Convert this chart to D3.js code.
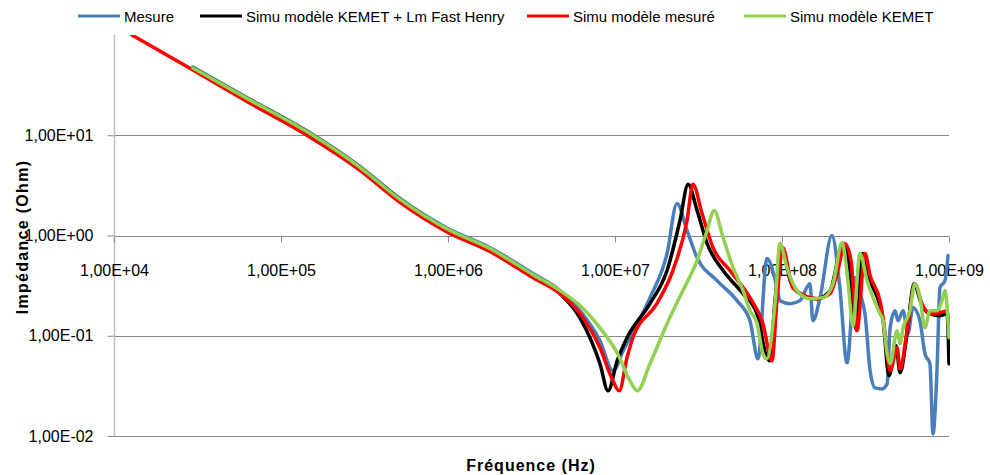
<!DOCTYPE html>
<html>
<head>
<meta charset="utf-8">
<script src="https://cdn.jsdelivr.net/npm/d3@7"></script>
<style>
  body { margin: 0; background: #fff; }
  svg { display: block; font-family: "Liberation Sans", Arial, sans-serif; }
</style>
</head>
<body>
<div id="chart"></div>
<script>
// frequency (Hz), impedance (Ohm)
var mesure = [
  [2.97e4, 47.9], [6.52e4, 22.9], [1.55e5, 10.2], [2.97e5, 4.90], [5.16e5, 2.34],
  [1.0e6, 1.175], [1.78e6, 0.759], [3.23e6, 0.417], [4.69e6, 0.282], [6.17e6, 0.178],
  [8.13e6, 0.0891], [9.73e6, 0.0447], [1.12e7, 0.0708], [1.23e7, 0.0955], [1.62e7, 0.240],
  [2.05e7, 0.661], [2.35e7, 2.09], [2.70e7, 1.122], [3.10e7, 0.603], [4.08e7, 0.355],
  [5.38e7, 0.224], [6.43e7, 0.141], [7.18e7, 0.0589], [8.13e7, 0.589], [9.33e7, 0.302],
  [9.73e7, 0.224], [1.12e8, 0.209], [1.28e8, 0.224], [1.47e8, 0.331], [1.53e8, 0.141],
  [1.69e8, 0.240], [1.99e8, 1.0], [2.22e8, 0.302], [2.45e8, 0.0537], [2.74e8, 0.380],
  [2.93e8, 0.263], [3.14e8, 0.166], [3.37e8, 0.0447], [3.61e8, 0.0302], [3.97e8, 0.0295],
  [4.26e8, 0.0331], [4.44e8, 0.120], [4.75e8, 0.178], [4.95e8, 0.141], [5.31e8, 0.178],
  [5.68e8, 0.105], [6.08e8, 0.191], [6.70e8, 0.141], [7.18e8, 0.0661], [7.69e8, 0.0525],
  [8.02e8, 0.0105], [8.47e8, 0.0447], [8.83e8, 0.302], [9.46e8, 0.355], [9.87e8, 0.631]
];

var kemetLm = [
  [2.97e4, 46.8], [6.52e4, 22.4], [1.55e5, 10], [2.97e5, 4.79], [5.16e5, 2.29],
  [1.0e6, 1.122], [1.78e6, 0.708], [3.23e6, 0.389], [4.69e6, 0.263], [6.17e6, 0.151],
  [8.13e6, 0.0525], [9.08e6, 0.0282], [1.03e7, 0.0562], [1.18e7, 0.0955], [1.62e7, 0.209],
  [2.05e7, 0.447], [2.45e7, 1.413], [2.74e7, 3.24], [3.10e7, 1.78], [3.56e7, 0.832],
  [4.44e7, 0.447], [5.84e7, 0.263], [7.08e7, 0.166], [8.13e7, 0.0603], [8.47e7, 0.0562],
  [9.08e7, 0.224], [1.0e8, 0.759], [1.12e8, 0.355], [1.28e8, 0.263], [1.62e8, 0.234],
  [1.94e8, 0.282], [2.32e8, 0.832], [2.55e8, 0.447], [2.77e8, 0.117], [3.05e8, 0.661],
  [3.37e8, 0.355], [3.86e8, 0.200], [4.03e8, 0.141], [4.37e8, 0.0398], [4.82e8, 0.0794],
  [5.09e8, 0.0427], [5.61e8, 0.105], [6.17e8, 0.331], [6.89e8, 0.200], [7.69e8, 0.166],
  [8.83e8, 0.158], [9.73e8, 0.166], [1.0e9, 0.0525]
];

var modeleMesure = [
  [1.28e4, 100], [2.97e4, 44.7], [6.52e4, 20.9], [1.43e5, 10], [2.97e5, 4.47],
  [5.16e5, 2.14], [1.0e6, 1.072], [1.78e6, 0.692], [3.23e6, 0.380], [4.69e6, 0.263],
  [6.17e6, 0.166], [8.13e6, 0.0759], [9.6e6, 0.0372], [1.06e7, 0.0282], [1.18e7, 0.0603],
  [1.28e7, 0.0955], [1.78e7, 0.209], [2.22e7, 0.447], [2.70e7, 1.413], [2.93e7, 3.24],
  [3.32e7, 1.66], [3.86e7, 0.759], [4.88e7, 0.447], [6.43e7, 0.240], [7.69e7, 0.132],
  [8.71e7, 0.0562], [9.33e7, 0.224], [1.01e8, 0.759], [1.16e8, 0.302], [1.62e8, 0.234],
  [1.94e8, 0.263], [2.16e8, 0.447], [2.38e8, 0.832], [2.59e8, 0.562], [2.81e8, 0.112],
  [3.14e8, 0.661], [3.37e8, 0.398], [3.86e8, 0.224], [4.03e8, 0.151], [4.44e8, 0.0447],
  [4.89e8, 0.0759], [5.09e8, 0.0468], [5.61e8, 0.112], [6.25e8, 0.331], [6.89e8, 0.209],
  [7.69e8, 0.166], [8.47e8, 0.166], [9.73e8, 0.178], [1.0e9, 0.112]
];

var kemet = [
  [2.97e4, 46.8], [6.52e4, 22.4], [1.55e5, 10], [2.97e5, 4.79], [5.16e5, 2.29],
  [1.0e6, 1.148], [1.78e6, 0.741], [3.23e6, 0.407], [4.69e6, 0.282], [6.17e6, 0.200],
  [8.13e6, 0.120], [1.03e7, 0.0676], [1.23e7, 0.0355], [1.36e7, 0.0282], [1.62e7, 0.0525],
  [2.05e7, 0.132], [2.55e7, 0.282], [3.10e7, 0.562], [3.56e7, 1.122], [3.92e7, 1.78],
  [4.44e7, 0.955], [5.09e7, 0.479], [5.84e7, 0.282], [6.43e7, 0.178], [7.08e7, 0.135],
  [7.69e7, 0.0661], [8.13e7, 0.0589], [9.08e7, 0.209], [9.73e7, 0.832], [1.07e8, 0.479],
  [1.23e8, 0.282], [1.47e8, 0.234], [1.76e8, 0.240], [2.02e8, 0.331], [2.29e8, 0.851],
  [2.48e8, 0.355], [2.66e8, 0.126], [2.93e8, 0.661], [3.23e8, 0.355], [3.51e8, 0.240],
  [3.86e8, 0.166], [4.03e8, 0.141], [4.26e8, 0.0661], [4.44e8, 0.0525], [4.89e8, 0.112],
  [5.09e8, 0.0832], [5.31e8, 0.120], [5.84e8, 0.178], [6.25e8, 0.331], [6.70e8, 0.240],
  [7.18e8, 0.120], [7.69e8, 0.178], [8.47e8, 0.178], [9.08e8, 0.224], [9.46e8, 0.282],
  [1.0e9, 0.0955]
];

var seriesNames = ["Mesure", "Simu modèle KEMET + Lm Fast Henry", "Simu modèle mesuré", "Simu modèle KEMET"];
var seriesColors = ["#4a7ebb", "#000000", "#ff0000", "#92d050"];
var xTicks = [1e4, 1e5, 1e6, 1e7, 1e8, 1e9];
var yTicks = [1e-2, 1e-1, 1e0, 1e1];

var width = 990, height = 475;
var svg = d3.select("#chart").append("svg")
    .attr("width", width)
    .attr("height", height);

var x = d3.scaleLog().domain([1e4, 1e9]).range([114, 949]);
var y = d3.scaleLog().domain([1e-2, 1e2]).range([436, 35]);

function fmt(d) {
  var e = Math.round(Math.log10(d));
  return "1,00E" + (e < 0 ? "-" : "+") + String(Math.abs(e)).padStart(2, "0");
}

// horizontal grid
svg.append("g").selectAll("line")
    .data(yTicks)
    .enter().append("line")
    .attr("x1", x.range()[0]).attr("x2", x.range()[1])
    .attr("y1", function(d) { return Math.round(y(d)) + 0.5; })
    .attr("y2", function(d) { return Math.round(y(d)) + 0.5; })
    .style("stroke", "#888")
    .style("stroke-width", 1);

// y axis
var yAxis = svg.append("g")
    .attr("transform", "translate(114.5,0)")
    .call(d3.axisLeft(y).tickValues(yTicks).tickSize(7).tickPadding(14).tickFormat(fmt));
yAxis.select(".domain").remove();
yAxis.selectAll(".tick line").style("stroke", "#888");
yAxis.selectAll("text").style("font-size", "16px").style("fill", "#000")
    .style("font-family", "Liberation Sans, Arial, sans-serif");
svg.append("line")
    .attr("x1", 114.5).attr("x2", 114.5)
    .attr("y1", 35).attr("y2", 436)
    .style("stroke", "#c0c0c0")
    .style("stroke-width", 1.5);

// x axis crossing at 1 Ohm
var xAxis = svg.append("g")
    .attr("transform", "translate(0," + (Math.round(y(1)) + 0.5) + ")")
    .call(d3.axisBottom(x).tickValues(xTicks).tickSize(6).tickPadding(22).tickFormat(fmt));
xAxis.select(".domain").remove();
xAxis.selectAll(".tick line").style("stroke", "#888");
xAxis.selectAll("text").style("font-size", "16px").style("fill", "#000")
    .style("font-family", "Liberation Sans, Arial, sans-serif");

// series
var allSeries = [mesure, kemetLm, modeleMesure, kemet];
var line = d3.line()
    .x(function(d) { return x(d[0]); })
    .y(function(d) { return y(d[1]); })
    .curve(d3.curveMonotoneX);

svg.append("clipPath").attr("id", "plotclip")
  .append("rect").attr("x", 114).attr("y", 35).attr("width", 836).attr("height", 402);

svg.append("g").attr("clip-path", "url(#plotclip)")
  .selectAll("path")
    .data(allSeries)
    .enter().append("path")
    .attr("d", line)
    .style("fill", "none")
    .style("stroke", function(d, i) { return seriesColors[i]; })
    .style("stroke-width", 3.5)
    .style("stroke-linejoin", "round")
    .style("stroke-linecap", "round");

// axis titles
svg.append("text")
    .attr("x", 531).attr("y", 471)
    .attr("text-anchor", "middle")
    .style("font-size", "16px").style("font-weight", "bold")
    .style("letter-spacing", "1px")
    .text("Fréquence (Hz)");

svg.append("text")
    .attr("transform", "translate(28,237) rotate(-90)")
    .attr("text-anchor", "middle")
    .style("font-size", "16px").style("font-weight", "bold")
    .style("letter-spacing", "1.3px")
    .text("Impédance (Ohm)");

// legend
var legendX = [78, 200, 527, 744];
var legend = svg.append("g").selectAll("g")
    .data(seriesNames)
    .enter().append("g")
    .attr("transform", function(d, i) { return "translate(" + legendX[i] + ",16)"; });
legend.append("line")
    .attr("x1", 0).attr("x2", 42)
    .style("stroke", function(d, i) { return seriesColors[i]; })
    .style("stroke-width", 3);
legend.append("text")
    .attr("x", 46).attr("y", 6)
    .style("font-size", "15px")
    .text(function(d) { return d; });
</script>
</body>
</html>
